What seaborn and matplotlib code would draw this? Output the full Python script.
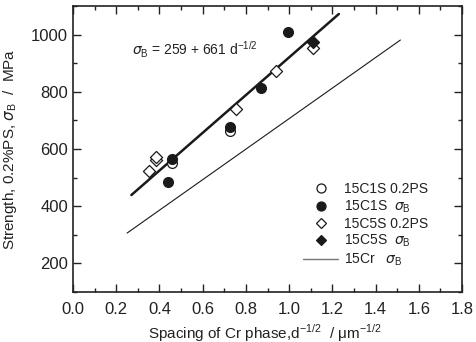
import numpy as np
import pandas as pd
import matplotlib
matplotlib.use("Agg")
import matplotlib.pyplot as plt
from matplotlib.ticker import MultipleLocator
from matplotlib.lines import Line2D
import seaborn as sns

# 15C1S data
c1s_ps_x = [0.456, 0.725]
c1s_ps_y = [550, 664]
c1s_b_x = [0.44, 0.456, 0.725, 0.871, 0.995]
c1s_b_y = [486, 565, 678, 812, 1008]

# 15C5S data
c5s_ps_x = [0.351, 0.383, 0.383, 0.756, 0.94, 1.11]
c5s_ps_y = [524, 563, 571, 740, 874, 952]
c5s_b_x = [1.11]
c5s_b_y = [975]

# fitted line and 15Cr reference line (end points)
fit_x = [0.27, 1.23]
fit_y = [439, 1072]
cr_x = [0.25, 1.515]
cr_y = [306, 981]

sns.set_style("ticks")
plt.rcParams['font.family'] = ['Liberation Sans', 'DejaVu Sans']
plt.rcParams['mathtext.fontset'] = 'custom'
plt.rcParams['mathtext.rm'] = 'Liberation Sans'
plt.rcParams['mathtext.it'] = 'DejaVu Sans:italic'
plt.rcParams['text.color'] = '#222222'
plt.rcParams['axes.labelcolor'] = '#222222'

sig = r"$\mathit{\sigma}_{\rm B}$"

fig = plt.figure(figsize=(4.76, 3.42), dpi=100)
ax = fig.add_axes([0.1534, 0.1462, 0.8172, 0.8363])

sns.lineplot(x=fit_x, y=fit_y, ax=ax, color='#1a1a1a', lw=1.8)
sns.lineplot(x=cr_x, y=cr_y, ax=ax, color='#1a1a1a', lw=0.8)

ms = 50
sns.scatterplot(x=c5s_ps_x, y=c5s_ps_y, ax=ax, marker='D', s=38,
                facecolor='white', edgecolor='#1a1a1a', linewidth=0.9, zorder=3)
sns.scatterplot(x=c5s_b_x, y=c5s_b_y, ax=ax, marker='D', s=38,
                color='#1a1a1a', edgecolor='#1a1a1a', linewidth=0.9, zorder=3)
sns.scatterplot(x=c1s_ps_x, y=c1s_ps_y, ax=ax, marker='o', s=ms,
                facecolor='white', edgecolor='#1a1a1a', linewidth=0.9, zorder=3)
sns.scatterplot(x=c1s_b_x, y=c1s_b_y, ax=ax, marker='o', s=ms,
                color='#1a1a1a', edgecolor='#1a1a1a', linewidth=0.9, zorder=4)

ax.set_xlim(0, 1.8)
ax.set_ylim(100, 1100)
ax.xaxis.set_major_locator(MultipleLocator(0.2))
ax.xaxis.set_minor_locator(MultipleLocator(0.1))
ax.yaxis.set_major_locator(MultipleLocator(200))
ax.yaxis.set_minor_locator(MultipleLocator(100))
ax.set_xticks(np.arange(0, 1.81, 0.2))
ax.set_xticklabels([f"{v:.1f}" for v in np.arange(0, 1.81, 0.2)])
ax.set_yticks([200, 400, 600, 800, 1000])

for s in ax.spines.values():
    s.set_visible(True)
    s.set_linewidth(1.2)
    s.set_color('#222222')
ax.tick_params(which='both', direction='in', top=True, right=True,
               colors='#222222', labelsize=12, width=1.0)
ax.tick_params(which='major', length=5.5)
ax.tick_params(which='minor', length=3)
ax.tick_params(axis='x', which='major', pad=7.5)

ax.set_xlabel(r"Spacing of Cr phase,d$^{-1/2}$  / μm$^{-1/2}$", fontsize=11)
ax.set_ylabel(r"Strength, 0.2%PS, " + sig + r"  /  MPa", fontsize=11)
ax.xaxis.set_label_coords(0.494, -0.108)
ax.yaxis.set_label_coords(-0.14, 0.5)

ax.text(0.275, 945, sig + r" = 259 + 661 d$^{-1/2}$", fontsize=10,
        va='center', ha='left')

handles = [
    Line2D([], [], ls='none', marker='o', ms=6.5, mfc='white', mec='#1a1a1a', mew=0.9),
    Line2D([], [], ls='none', marker='o', ms=6.5, mfc='#1a1a1a', mec='#1a1a1a', mew=0.9),
    Line2D([], [], ls='none', marker='D', ms=5.5, mfc='white', mec='#1a1a1a', mew=0.9),
    Line2D([], [], ls='none', marker='D', ms=5.5, mfc='#1a1a1a', mec='#1a1a1a', mew=0.9),
    Line2D([], [], color='#777777', lw=1.0),
]
labels = ["15C1S 0.2PS", "15C1S  " + sig, "15C5S 0.2PS",
          "15C5S  " + sig, "15Cr   " + sig]
ax.legend(handles, labels, loc='lower right', bbox_to_anchor=(0.93, 0.06),
          frameon=False, fontsize=10, handlelength=2.5, handletextpad=0.4,
          labelspacing=0.15, borderpad=0)

fig.savefig("out.png", dpi=100)
